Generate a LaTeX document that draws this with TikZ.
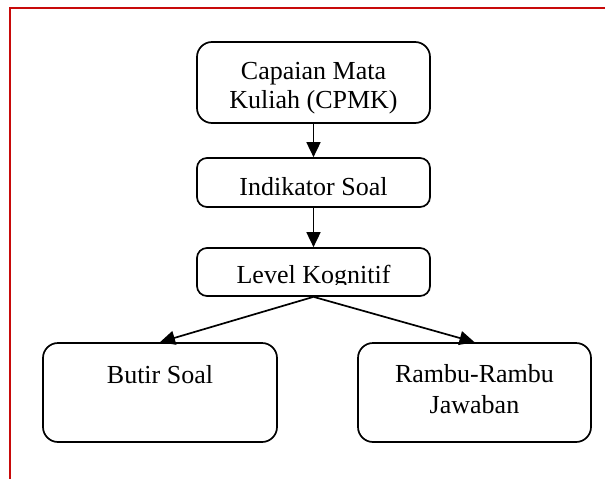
\documentclass[tikz,border=0pt]{standalone}
\usepackage{fontspec}
\setmainfont{Liberation Serif}
\usetikzlibrary{arrows.meta}

\definecolor{framered}{RGB}{200,10,10}

\tikzset{
    box/.style={draw, line width=1.7pt, rounded corners=10pt, align=center,
        inner sep=0pt, text height=25pt, text depth=0pt,
        font=\fontsize{26}{29}\selectfont},
    link/.style={line width=1.7pt, -{Triangle[length=15pt,width=14pt]}}
}

\begin{document}
\begin{tikzpicture}[x=1pt, y=-1pt]
    % Fix the page size
    \useasboundingbox (0,0) rectangle (605,479);

    % Red page frame (top and left only)
    \draw[framered, line width=2.6pt] (10,479) -- (10,8) -- (605,8);

    % Chain of boxes in the middle
    \node[box, minimum width=233pt, minimum height=81pt, rounded corners=15pt,
        text height=54pt, text depth=3pt] (cpmk) at (313.5,82.5) {Capaian Mata\\Kuliah (CPMK)};
    \node[box, minimum width=233pt, minimum height=49pt] (indikator) at (313.5,182.5) {Indikator Soal};
    \node[box, minimum width=233pt, minimum height=48pt] (level) at (313.5,272) {};

    % Text of the third box is cut off at the bottom
    \begin{scope}
        \clip (200,250) rectangle (428,284.5);
        \node[anchor=base, inner sep=0pt, font=\fontsize{26}{29}\selectfont] (leveltext) at (313.5,283) {Level Kognitif};
    \end{scope}

    % Two boxes at the bottom
    \node[box, minimum width=234pt, minimum height=99pt, rounded corners=15pt,
        text depth=44pt] (butir) at (160,392.5) {Butir Soal};
    \node[box, minimum width=233pt, minimum height=99pt, rounded corners=15pt,
        text height=56pt, text depth=15pt, font=\fontsize{26}{31}\selectfont] (rambu) at (474.5,392.5) {Rambu-Rambu\\Jawaban};

    % Arrows
    \draw[link] (cpmk) -- (indikator);
    \draw[link] (indikator) -- (level);
    \draw[link] (level.south) -- (butir.north);
    \draw[link] (level.south) -- (rambu.north);
\end{tikzpicture}
\end{document}
